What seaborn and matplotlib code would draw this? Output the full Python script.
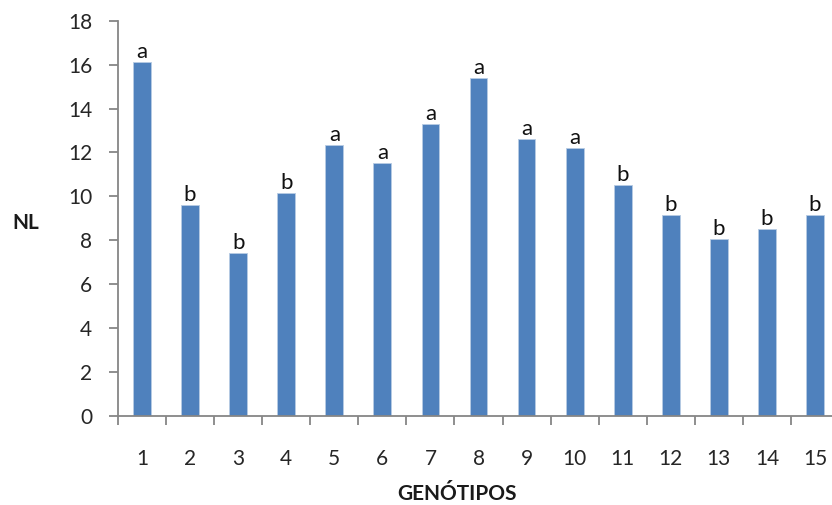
#%% Pacotes

import pandas as pd
import seaborn as sns
import matplotlib.pyplot as plt
from matplotlib.ticker import FixedLocator

#%% Dados

genotipos = [str(i) for i in range(1, 16)]
nl = [16.1, 9.6, 7.4, 10.15, 12.35, 11.5, 13.3, 15.4, 12.6, 12.2, 10.5, 9.15, 8.05, 8.5, 9.15]
letras = ['a', 'b', 'b', 'b', 'a', 'a', 'a', 'a', 'a', 'a', 'b', 'b', 'b', 'b', 'b']

df = pd.DataFrame({'Genotipo': genotipos, 'NL': nl, 'Letra': letras})

#%% Gráfico de barras

sns.set_style('white')
plt.rcParams['font.family'] = ['Lato', 'DejaVu Sans']

fig = plt.figure(figsize=(8.32, 5.05), dpi=100)
ax = fig.add_axes([118 / 832, 1 - 416 / 505, (832 - 118) / 832, (416 - 20.7) / 505])

sns.barplot(data=df, x='Genotipo', y='NL', color='#4F81BD', width=0.37,
            edgecolor='#B7CBE3', linewidth=0.6, saturation=1, ax=ax)

for i, row in df.iterrows():
    ax.annotate(row['Letra'], (i, row['NL']), xytext=(0, 3), textcoords='offset points',
                ha='center', va='baseline', fontsize=16, color='#111111')

ax.set_ylim(0, 18)
ax.set_xlim(-0.5, (832 - 118) / 48.07 - 0.5)
ax.set_yticks(range(0, 19, 2))

for s in ['top', 'right']:
    ax.spines[s].set_visible(False)
for s in ['left', 'bottom']:
    ax.spines[s].set_color('#868686')
    ax.spines[s].set_linewidth(1.3)

ax.tick_params(axis='y', left=True, length=6.5, width=1.3, color='#868686',
               pad=12, labelsize=15, labelcolor='#262626')
ax.tick_params(axis='x', which='major', bottom=False, length=0, pad=24,
               labelsize=15, labelcolor='#262626')
ax.xaxis.set_minor_locator(FixedLocator([i - 0.5 for i in range(16)]))
ax.tick_params(axis='x', which='minor', bottom=True, length=6.5, width=1.3, color='#868686')

ax.set_xlabel('GENÓTIPOS', fontsize=15, fontweight='bold', color='#1a1a1a')
ax.set_ylabel('NL', fontsize=15, fontweight='bold', color='#1a1a1a', rotation=0)
ax.xaxis.set_label_coords(0.475, -0.197)
ax.yaxis.set_label_coords(-0.129, 0.488)
ax.xaxis.label.set_va('center')
ax.yaxis.label.set_va('center')
ax.yaxis.label.set_ha('center')

fig.savefig('out.png', dpi=100)
